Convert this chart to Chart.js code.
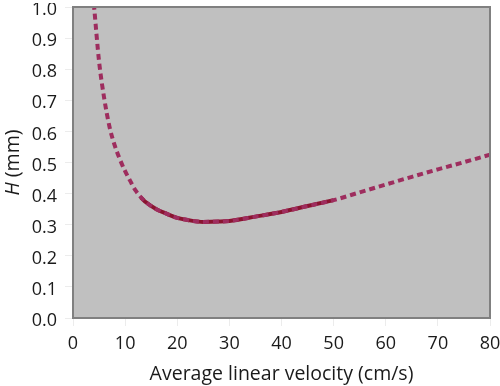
<!DOCTYPE html>
<html>
<head>
<meta charset="utf-8">
<script src="https://cdn.jsdelivr.net/npm/chart.js@4"></script>
<style>
  html, body { margin: 0; padding: 0; background: #fff; }
  #wrap { width: 500px; height: 386px; }
</style>
</head>
<body>
<div id="wrap"><canvas id="chart" width="500" height="386"></canvas></div>
<script>
// velocity (cm/s) and plate height H (mm)
const velocity = [4, 5, 6, 7, 8, 9, 10, 11, 12, 14, 16, 18, 20, 22, 25, 28, 30, 35, 40, 45, 50, 55, 60, 65, 70, 75, 80];
const plateHeight = [1.01, 0.825, 0.705, 0.615, 0.555, 0.51, 0.472, 0.44, 0.41, 0.372, 0.35, 0.335, 0.322, 0.315, 0.309, 0.310, 0.312, 0.326, 0.341, 0.36, 0.379, 0.404, 0.429, 0.454, 0.478, 0.501, 0.525];

// measured range, drawn as solid line under the dashes
const measuredFrom = 13;
const measuredTo = 50;

const xTicks = [0, 10, 20, 30, 40, 50, 60, 70, 80];
const yTicks = [0, 0.1, 0.2, 0.3, 0.4, 0.5, 0.6, 0.7, 0.8, 0.9, 1.0];

const fitPoints = velocity.map((v, i) => ({ x: v, y: plateHeight[i] }));
const measuredPoints = [{ x: measuredFrom, y: 0.388 }].concat(
    fitPoints.filter(p => p.x > measuredFrom && p.x <= measuredTo)
);

const titleFont = '19.5px "Open Sans"';

const plotBackground = {
    id: 'plotBackground',
    beforeDraw(chart) {
        const { ctx, chartArea: a } = chart;
        ctx.save();
        ctx.fillStyle = '#c0c0c0';
        ctx.fillRect(a.left, a.top, a.right - a.left, a.bottom - a.top);
        ctx.restore();
    },
    afterDraw(chart) {
        const { ctx, chartArea: a } = chart;
        ctx.save();
        ctx.strokeStyle = '#808080';
        ctx.lineWidth = 2;
        ctx.strokeRect(a.left, a.top, a.right - a.left, a.bottom - a.top);
        // y axis title: italic H + (mm)
        ctx.translate(13, (a.top + a.bottom) / 2);
        ctx.rotate(-Math.PI / 2);
        ctx.fillStyle = '#1a1a1a';
        ctx.textBaseline = 'middle';
        ctx.textAlign = 'left';
        ctx.font = 'italic ' + titleFont;
        const hW = ctx.measureText('H').width;
        ctx.font = titleFont;
        const restW = ctx.measureText(' (mm)').width;
        const start = -(hW + restW) / 2;
        ctx.font = 'italic ' + titleFont;
        ctx.fillText('H', start, 0);
        ctx.font = titleFont;
        ctx.fillText(' (mm)', start + hW, 0);
        ctx.restore();
    }
};

// y labels sit a few px below their tick in the original
function nudgeLabels(s) {
    if (s._nudged) return;
    s._nudged = true;
    const orig = s.drawLabels;
    s.drawLabels = function (area) {
        this.ctx.save();
        this.ctx.translate(0, 3);
        orig.call(this, area);
        this.ctx.restore();
    };
}

new Chart(document.getElementById('chart').getContext('2d'), {
    type: 'line',
    data: {
        datasets: [
            {
                data: fitPoints,
                borderColor: '#9e2d5e',
                borderWidth: 4,
                borderDash: [6, 4],
                borderCapStyle: 'butt',
                pointRadius: 0,
                cubicInterpolationMode: 'monotone',
                order: 1
            },
            {
                data: measuredPoints,
                borderColor: '#8a1430',
                borderWidth: 4,
                pointRadius: 0,
                cubicInterpolationMode: 'monotone',
                order: 2
            }
        ]
    },
    options: {
        responsive: false,
        animation: false,
        layout: { padding: { top: 7, right: 10, left: 0, bottom: 0 } },
        plugins: {
            legend: { display: false },
            tooltip: { enabled: false }
        },
        scales: {
            x: {
                type: 'linear',
                min: 0,
                max: 80,
                afterBuildTicks: s => { s.ticks = xTicks.map(v => ({ value: v })); },
                afterFit: s => { s.height = 68; s.paddingLeft = 0; s.paddingRight = 0; },
                grid: { display: true, drawOnChartArea: false, color: '#ececec', tickLength: 8 },
                border: { display: false },
                ticks: { color: '#1a1a1a', font: { family: 'Open Sans', size: 18 }, padding: 7, maxRotation: 0 },
                title: {
                    display: true,
                    text: 'Average linear velocity (cm/s)',
                    color: '#1a1a1a',
                    font: { family: 'Open Sans', size: 19.5 },
                    padding: { top: 3, bottom: 0 }
                }
            },
            y: {
                min: 0,
                max: 1,
                afterBuildTicks: s => { s.ticks = yTicks.map(v => ({ value: v })); },
                afterFit: s => { s.width = 73; s.paddingTop = 0; s.paddingBottom = 0; nudgeLabels(s); },
                grid: { display: true, drawOnChartArea: false, color: '#ececec', tickLength: 8 },
                border: { display: false },
                ticks: {
                    color: '#1a1a1a',
                    font: { family: 'Open Sans', size: 18 },
                    padding: 8,
                    callback: v => v.toFixed(1)
                }
            }
        }
    },
    plugins: [plotBackground]
});
</script>
</body>
</html>
